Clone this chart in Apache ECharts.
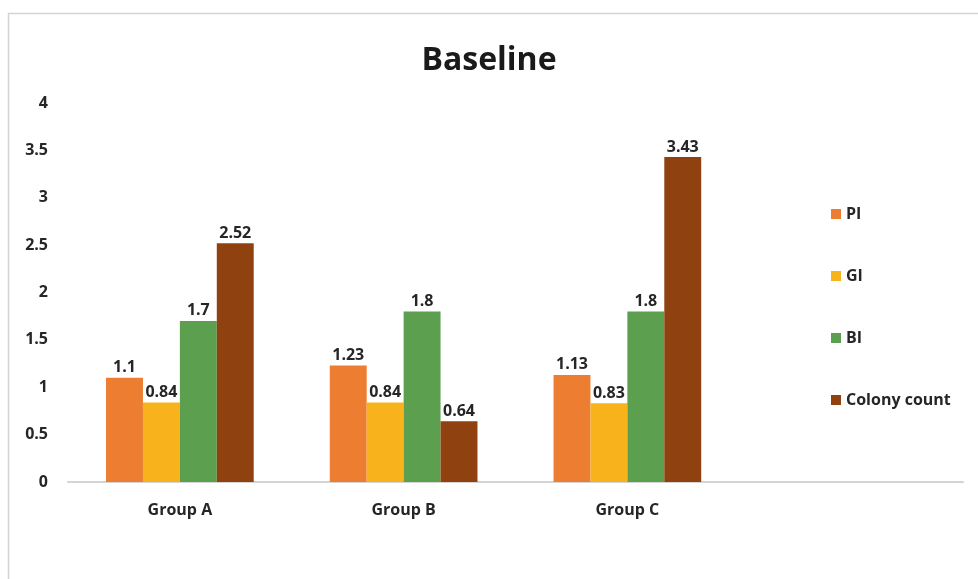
<!DOCTYPE html>
<html>
<head>
<meta charset="utf-8">
<script src="https://cdn.jsdelivr.net/npm/echarts@6/dist/echarts.min.js"></script>
<style>
  html, body { margin: 0; padding: 0; background: #ffffff; }
  #chart { width: 978px; height: 579px; }
</style>
</head>
<body>
<div id="chart"></div>
<script>
// Group labels (last slot is left empty, as in the original layout)
const categories = ['Group A', 'Group B', 'Group C', ''];
const seriesNames = ['PI', 'GI', 'BI', 'Colony count'];
const piValues = [1.1, 1.23, 1.13, null];
const giValues = [0.84, 0.84, 0.83, null];
const biValues = [1.7, 1.8, 1.8, null];
const colonyValues = [2.52, 0.64, 3.43, null];
const yTicks = { min: 0, max: 4, interval: 0.5 };

const colors = ['#ED7D31', '#F8B31C', '#5B9F4F', '#8F4210'];
const font = '"Open Sans", Lato, sans-serif';
const textColor = '#262626';

const chart = echarts.init(document.getElementById('chart'), null, { renderer: 'canvas' });

function barSeries(name, data, color) {
  return {
    name: name,
    type: 'bar',
    data: data,
    barGap: '0%',
    barCategoryGap: '34%',
    itemStyle: { color: color },
    label: {
      show: true,
      position: 'top',
      distance: 2,
      color: textColor,
      fontFamily: font,
      fontWeight: 'bold',
      fontSize: 16
    }
  };
}

chart.setOption({
  animation: false,
  backgroundColor: '#ffffff',
  color: colors,
  title: {
    text: 'Baseline',
    left: 'center',
    top: 40,
    textStyle: { fontFamily: font, fontWeight: 'bold', fontSize: 32, color: '#1a1a1a' }
  },
  graphic: [{
    type: 'rect',
    shape: { x: 8.5, y: 13.5, width: 1000, height: 700 },
    style: { fill: 'none', stroke: '#d4d4d4', lineWidth: 1.5 },
    silent: true
  }],
  legend: {
    orient: 'vertical',
    left: 826,
    top: 201,
    itemGap: 46,
    itemWidth: 10,
    itemHeight: 10,
    itemStyle: { borderWidth: 0 },
    icon: 'rect',
    data: seriesNames,
    textStyle: { fontFamily: font, fontWeight: 'bold', fontSize: 16, color: textColor }
  },
  grid: { left: 68, right: 15, top: 103, bottom: 97, containLabel: false },
  xAxis: {
    type: 'category',
    data: categories,
    axisLine: { show: true, lineStyle: { color: '#d4d4d4', width: 2 } },
    axisTick: { show: false },
    axisLabel: {
      margin: 20,
      color: textColor,
      fontFamily: font,
      fontWeight: 'bold',
      fontSize: 16
    }
  },
  yAxis: {
    type: 'value',
    min: yTicks.min,
    max: yTicks.max,
    interval: yTicks.interval,
    axisLine: { show: false },
    axisTick: { show: false },
    splitLine: { show: false },
    axisLabel: {
      margin: 20,
      color: textColor,
      fontFamily: font,
      fontWeight: 'bold',
      fontSize: 16
    }
  },
  series: [
    barSeries(seriesNames[0], piValues, colors[0]),
    barSeries(seriesNames[1], giValues, colors[1]),
    barSeries(seriesNames[2], biValues, colors[2]),
    barSeries(seriesNames[3], colonyValues, colors[3])
  ]
});
</script>
</body>
</html>
